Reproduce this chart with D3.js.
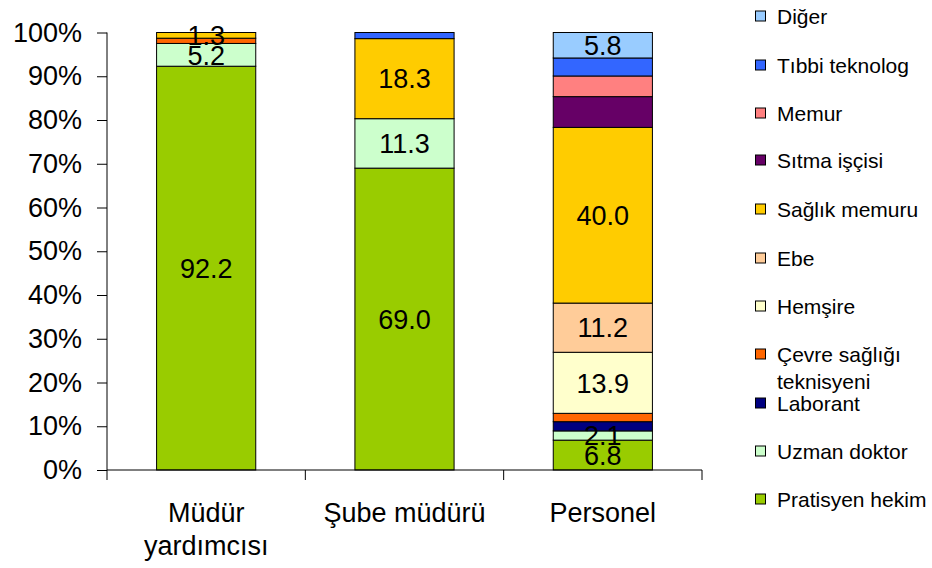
<!DOCTYPE html>
<html>
<head>
<meta charset="utf-8">
<script src="https://cdn.jsdelivr.net/npm/d3@7"></script>
<style>
  html, body { margin: 0; padding: 0; background: #fff; }
  svg { display: block; font-family: "Liberation Sans", Arial, sans-serif; }
</style>
</head>
<body>
<svg id="chart" width="932" height="568"></svg>
<script>
// ---- data ----
const categories = ["Müdür yardımcısı", "Şube müdürü", "Personel"];
const categoryLines = [["Müdür", "yardımcısı"], ["Şube müdürü"], ["Personel"]];
const seriesNames = ["Pratisyen hekim", "Uzman doktor", "Laborant", "Çevre sağlığı teknisyeni",
  "Hemşire", "Ebe", "Sağlık memuru", "Sıtma işçisi", "Memur", "Tıbbi teknolog", "Diğer"];
const pratisyen = [92.2, 69.0, 6.8];
const uzman = [5.2, 11.3, 2.1];
const laborant = [0, 0, 2.1];
const cevre = [1.2, 0, 1.9];
const hemsire = [0, 0, 13.9];
const ebe = [0, 0, 11.2];
const saglikMemuru = [1.3, 18.3, 40.0];
const sitma = [0, 0, 7.0];
const memur = [0, 0, 4.7];
const tibbi = [0, 1.4, 4.1];
const diger = [0, 0, 5.8];
const seriesValues = [pratisyen, uzman, laborant, cevre, hemsire, ebe, saglikMemuru, sitma, memur, tibbi, diger];
const seriesColors = ["#99CC00", "#CCFFCC", "#000080", "#FF6600", "#FFFFCC", "#FFCC99",
  "#FFCC00", "#660066", "#FF8080", "#3366FF", "#99CCFF"];
// labels that are shown: "seriesIndex|categoryIndex"
const shownLabels = ["0|0", "1|0", "6|0", "0|1", "1|1", "6|1", "0|2", "1|2", "4|2", "5|2", "6|2", "10|2"];
const legendLabels = [["Diğer"], ["Tıbbi teknolog"], ["Memur"], ["Sıtma işçisi"], ["Sağlık memuru"],
  ["Ebe"], ["Hemşire"], ["Çevre sağlığı", "teknisyeni"], ["Laborant"], ["Uzman doktor"], ["Pratisyen hekim"]];

(function () {
// ---- build table ----
const rows = categories.map((c, ci) => {
  const r = { category: c };
  seriesNames.forEach((s, si) => { r[s] = seriesValues[si][ci]; });
  return r;
});

const svg = d3.select("#chart");
const pLeft = 107, pRight = 702, pTop = 32.5, pBottom = 470;
const bigFont = 27;

const x = d3.scaleBand().domain(categories).range([pLeft, pRight]).paddingInner(0.5).paddingOuter(0.25);
const y = d3.scaleLinear().domain([0, 1]).range([pBottom, pTop]);

const stack = d3.stack().keys(seriesNames).offset(d3.stackOffsetExpand);
const stacked = stack(rows);

// bars
const g = svg.append("g");
stacked.forEach((layer, si) => {
  layer.forEach((d, ci) => {
    if (seriesValues[si][ci] <= 0) return;
    g.append("rect")
      .attr("x", x(categories[ci]))
      .attr("width", x.bandwidth())
      .attr("y", y(d[1]))
      .attr("height", y(d[0]) - y(d[1]))
      .attr("fill", seriesColors[si])
      .attr("stroke", "#000")
      .attr("stroke-width", 1);
  });
});

// data labels
stacked.forEach((layer, si) => {
  layer.forEach((d, ci) => {
    if (!shownLabels.includes(si + "|" + ci)) return;
    g.append("text")
      .attr("x", x(categories[ci]) + x.bandwidth() / 2)
      .attr("y", y((d[0] + d[1]) / 2))
      .attr("dy", "0.36em")
      .attr("text-anchor", "middle")
      .attr("font-size", bigFont)
      .attr("fill", "#000")
      .text(seriesValues[si][ci].toFixed(1));
  });
});

// y axis
const yAxis = d3.axisLeft(y)
  .tickValues(d3.range(0, 11).map(v => v / 10))
  .tickFormat(d3.format(".0%"))
  .tickSize(10)
  .tickPadding(15);
const ya = svg.append("g").attr("transform", `translate(${pLeft},0)`).call(yAxis);
ya.select(".domain").attr("stroke", "#000").attr("d", `M0,${pTop}V${pBottom}`);
ya.selectAll(".tick line").attr("stroke", "#000");
ya.selectAll(".tick text").attr("font-size", bigFont).attr("fill", "#000")
  .attr("font-family", "'Liberation Sans', Arial, sans-serif");

// x axis
const xa = svg.append("g");
xa.append("line").attr("x1", pLeft).attr("x2", pRight).attr("y1", pBottom).attr("y2", pBottom).attr("stroke", "#000");
const boundaries = categories.map(c => x(c) - x.step() * 0.25).concat([pRight]);
boundaries.forEach(b => {
  xa.append("line").attr("x1", b).attr("x2", b).attr("y1", pBottom).attr("y2", pBottom + 10).attr("stroke", "#000");
});
categories.forEach((c, ci) => {
  const t = xa.append("text")
    .attr("x", x(c) + x.bandwidth() / 2)
    .attr("y", 522)
    .attr("text-anchor", "middle")
    .attr("font-size", bigFont)
    .attr("fill", "#000");
  categoryLines[ci].forEach((line, li) => {
    t.append("tspan").attr("x", x(c) + x.bandwidth() / 2).attr("dy", li === 0 ? 0 : 33).text(line);
  });
});

// legend
const legend = svg.append("g");
const legendOrder = d3.range(seriesNames.length).reverse();
const legendY = [16, 65, 113, 160, 209, 258, 306, 354, 403, 451, 499];
legendOrder.forEach((si, i) => {
  const cy = legendY[i];
  legend.append("rect")
    .attr("x", 755.5).attr("y", cy - 5).attr("width", 10).attr("height", 10)
    .attr("fill", seriesColors[si]).attr("stroke", "#000").attr("stroke-width", 1);
  const t = legend.append("text")
    .attr("x", 777).attr("y", cy)
    .attr("font-size", 21).attr("fill", "#000");
  legendLabels[i].forEach((line, li) => {
    t.append("tspan").attr("x", 777).attr("dy", li === 0 ? "0.36em" : 27).text(line);
  });
});
})();
</script>
</body>
</html>
